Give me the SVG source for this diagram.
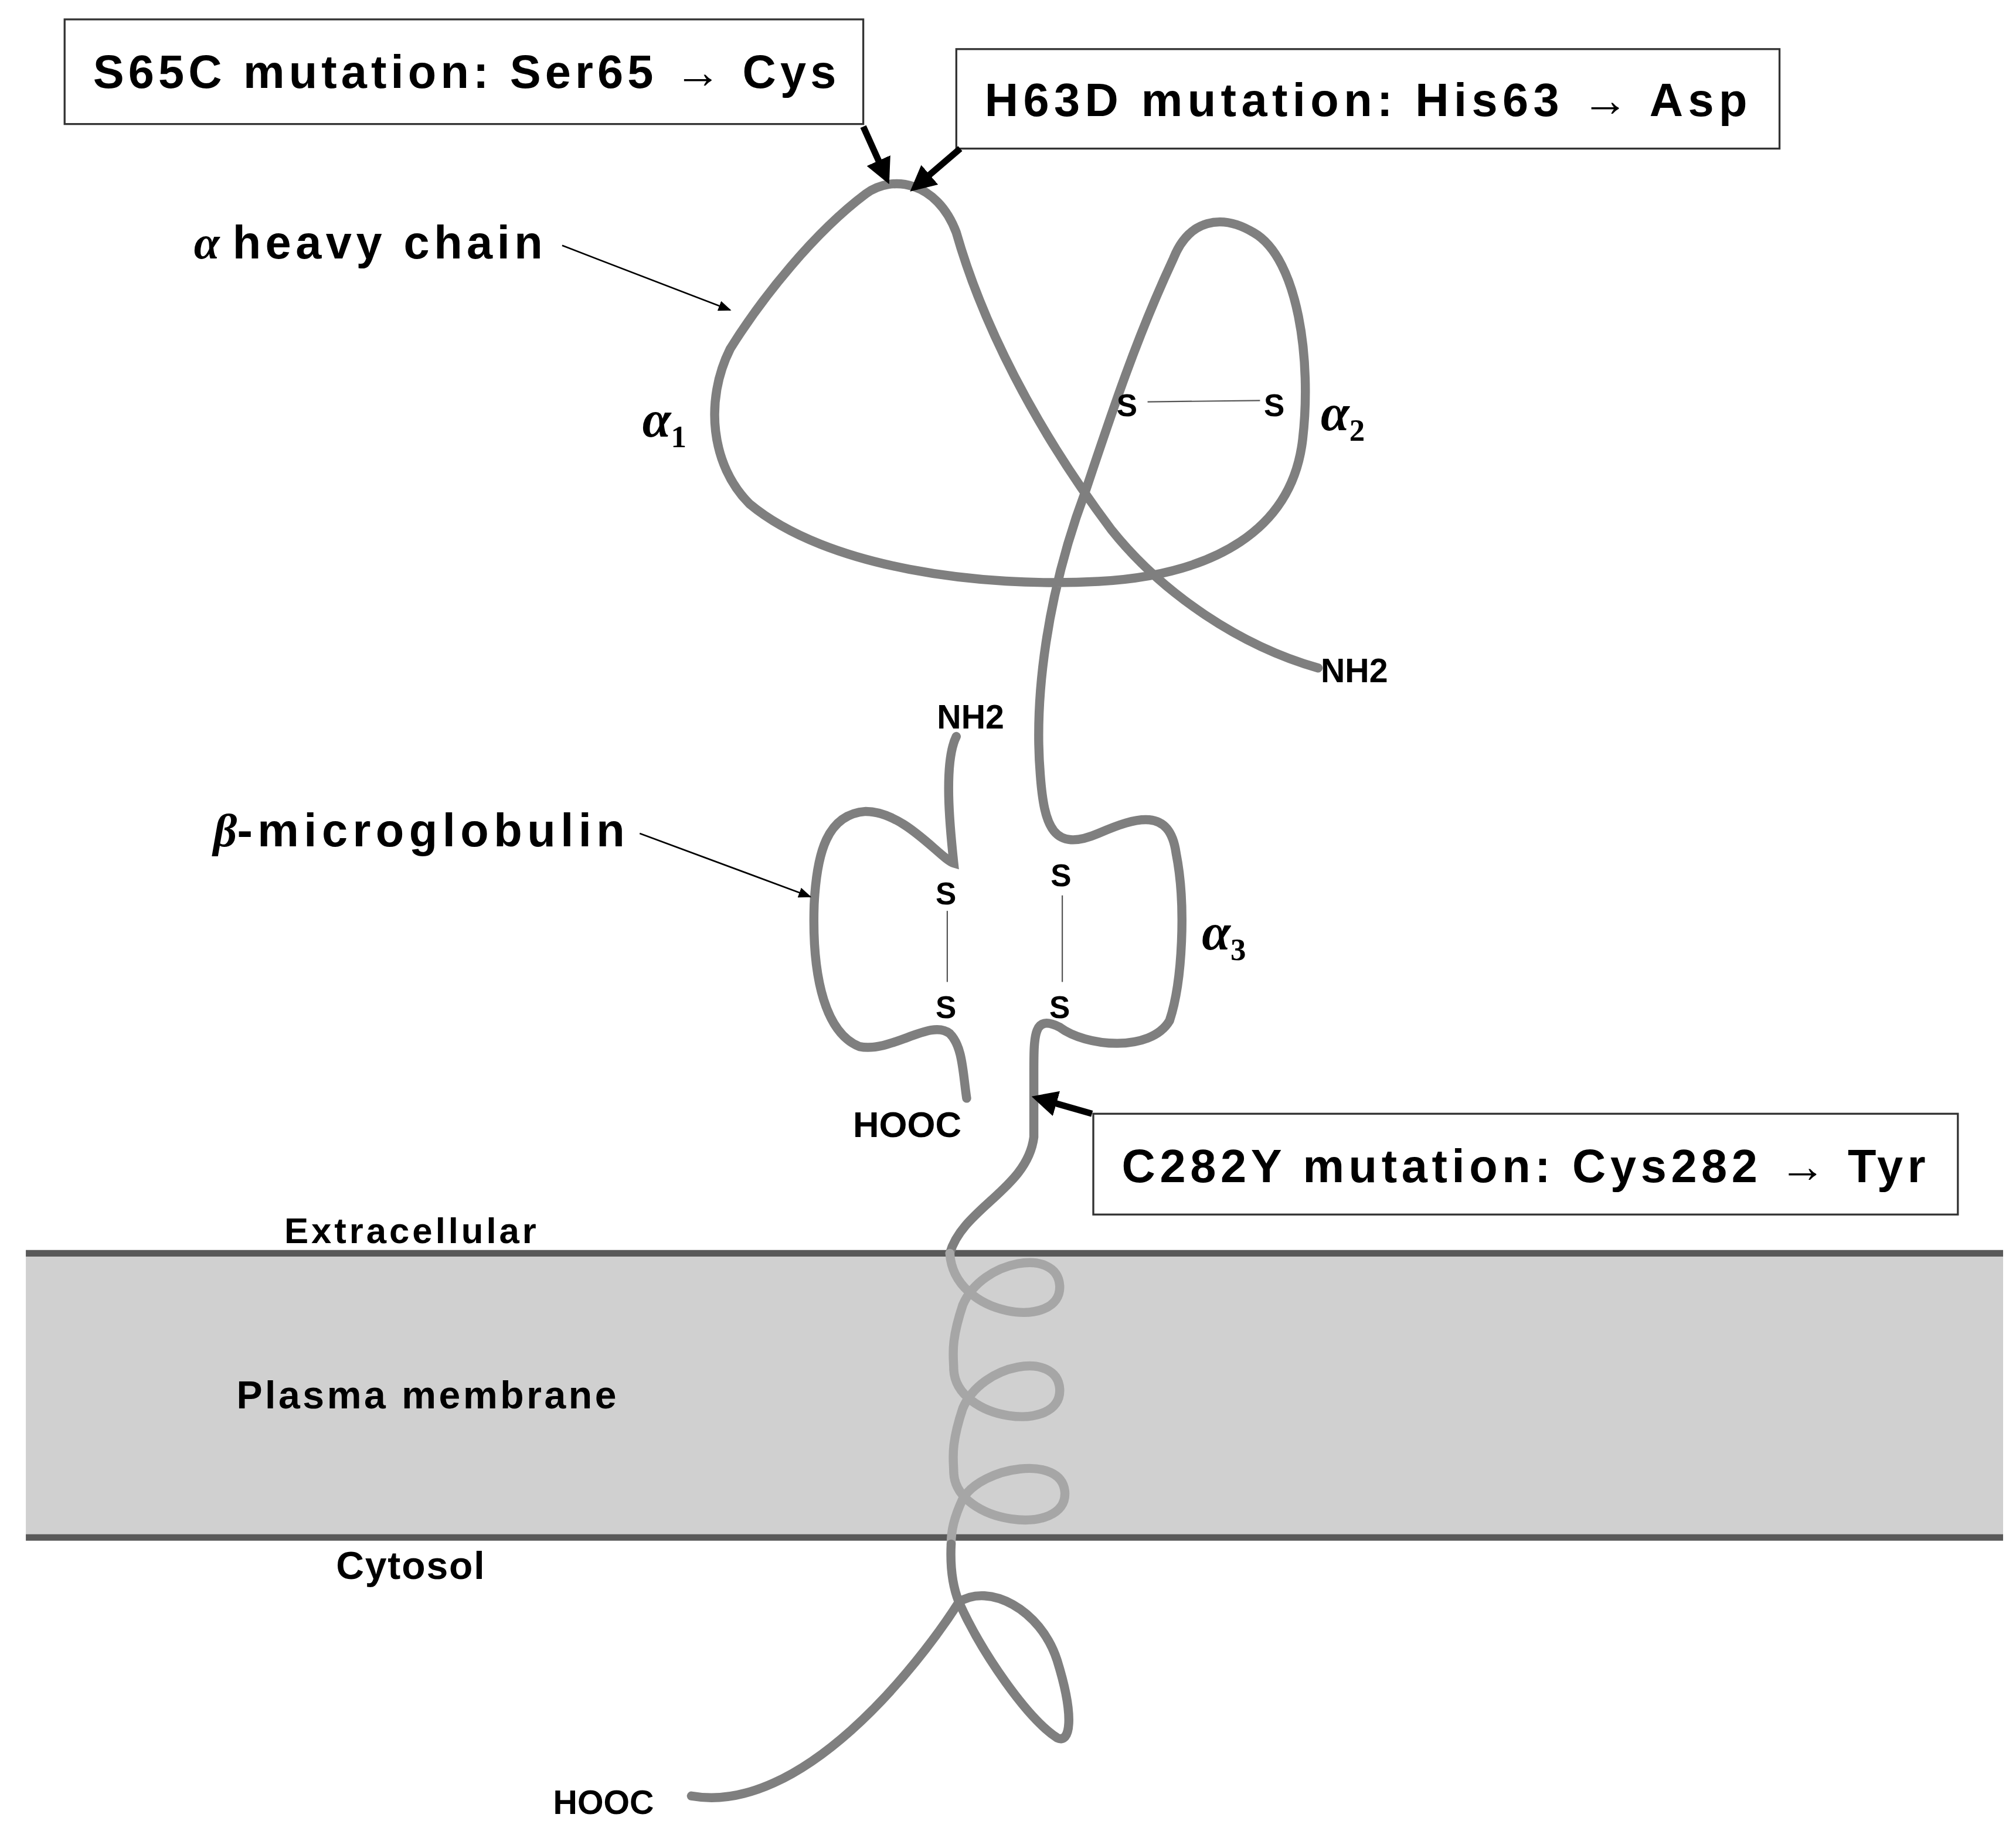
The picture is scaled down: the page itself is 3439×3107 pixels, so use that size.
<svg xmlns="http://www.w3.org/2000/svg" width="3439" height="3107" viewBox="0 0 3439 3107">
<style>
.t{font-family:"Liberation Sans",Arial,sans-serif;font-weight:bold;fill:#000}
.g{font-family:"Liberation Serif","DejaVu Serif",serif;font-weight:bold;font-style:italic;fill:#000}
.chain{fill:none;stroke:#7f7f7f;stroke-width:7;stroke-linecap:round}
.helix{fill:none;stroke:#a6a6a6;stroke-width:7;stroke-linecap:round}
.box{fill:#fff;stroke:#333;stroke-width:1.5}
.thin{stroke:#000;stroke-width:1.2;fill:none}
.thick{stroke:#000;stroke-width:5;fill:none}
.ss{stroke:#555;stroke-width:1}
</style>
<defs>
<marker id="a" markerWidth="10" markerHeight="8" refX="9" refY="4" orient="auto" markerUnits="userSpaceOnUse"><path d="M0,0 L10,4 L0,8 z" fill="#000"/></marker>
<marker id="b" markerWidth="4" markerHeight="4" refX="3" refY="2" orient="auto"><path d="M0,0 L4,2 L0,4 z" fill="#000"/></marker>
</defs>
<rect width="3439" height="3107" fill="#fff"/>
<g transform="scale(2.2045)">
<g id="membrane">
<rect x="20" y="970" width="1530" height="220" fill="#d0d0d0"/>
<line x1="20" y1="970" x2="1550" y2="970" stroke="#595959" stroke-width="5"/>
<line x1="20" y1="1190" x2="1550" y2="1190" stroke="#595959" stroke-width="5"/>
<text class="t" x="220" y="962" font-size="28" textLength="195">Extracellular</text>
<text class="t" x="183" y="1090" font-size="30" textLength="294">Plasma membrane</text>
<text class="t" x="260" y="1222" font-size="30" textLength="115">Cytosol</text>
</g>
<g id="heavy-chain">
<path class="chain" d="M1020,517 C960,500 900,460 860,410 C800,330 760,250 740,180 C725,140 690,135 670,150 C630,180 590,230 565,270 C545,310 550,360 580,390 C640,440 760,455 850,450 C940,445 1000,410 1008,340 C1015,280 1005,200 970,180 C945,165 920,170 908,200 C880,260 860,320 840,380 C810,460 800,540 805,600 C808,640 815,660 850,645 C880,632 905,625 910,660 C918,700 915,760 905,790 C890,815 840,810 820,795 C800,785 800,800 800,830 L800,880 C795,920 745,935 735,970"/>
<path class="helix" d="M735,970 C738,1020 822,1030 820,995 C818,965 760,975 745,1010 C735,1040 738,1050 738,1060 C740,1100 822,1110 820,1075 C818,1045 760,1055 745,1090 C735,1120 738,1130 738,1140 C740,1180 826,1190 824,1155 C822,1125 760,1135 745,1160 C738,1175 736,1185 736,1195"/>
<path class="chain" d="M736,1195 C735,1215 738,1230 742,1240 C765,1225 805,1245 818,1285 C832,1330 828,1350 818,1345 C795,1330 760,1280 742,1240 C710,1290 620,1405 535,1390"/>
<text class="t" x="1022" y="528" font-size="26">NH2</text>
<text class="t" x="428" y="1404" font-size="26">HOOC</text>
<line class="ss" x1="888" y1="311" x2="975" y2="310"/>
<text class="t" x="864" y="322" font-size="24">S</text>
<text class="t" x="978" y="322" font-size="24">S</text>
<line class="ss" x1="822" y1="693" x2="822" y2="760"/>
<text class="t" x="813" y="686" font-size="24">S</text>
<text class="t" x="812" y="788" font-size="24">S</text>
<text class="g" x="497" y="338" font-size="40">α<tspan font-size="24" dy="8" font-style="normal">1</tspan></text>
<text class="g" x="1022" y="333" font-size="40">α<tspan font-size="24" dy="8" font-style="normal">2</tspan></text>
<text class="g" x="930" y="735" font-size="40">α<tspan font-size="24" dy="8" font-style="normal">3</tspan></text>
</g>
<g id="b2m">
<path class="chain" d="M740,570 C730,590 735,640 738,668 C728,665 700,628 670,628 C640,630 632,660 630,700 C628,760 640,800 665,810 C690,815 720,788 735,800 C745,810 745,830 748,850"/>
<line class="ss" x1="733" y1="705" x2="733" y2="760"/>
<text class="t" x="724" y="700" font-size="24">S</text>
<text class="t" x="724" y="788" font-size="24">S</text>
<text class="t" x="725" y="564" font-size="26">NH2</text>
<text class="t" x="660" y="880" font-size="28">HOOC</text>
</g>
<g id="labels">
<text x="150" y="200" font-size="36"><tspan class="g">α</tspan><tspan class="t" dx="10" textLength="240">heavy chain</tspan></text>
<text x="165" y="655" font-size="36"><tspan class="g">β</tspan><tspan class="t" textLength="300">-microglobulin</tspan></text>
</g>
<g id="box-s65c"><rect class="box" x="50" y="15" width="618" height="81"/><text class="t" x="72" y="68" font-size="36" textLength="575">S65C mutation: Ser65 → Cys</text></g>
<g id="box-h63d"><rect class="box" x="740" y="38" width="637" height="77"/><text class="t" x="762" y="90" font-size="36" textLength="590">H63D mutation: His63 → Asp</text></g>
<g id="box-c282y"><rect class="box" x="846" y="862" width="669" height="78"/><text class="t" x="868" y="915" font-size="36" textLength="622">C282Y mutation: Cys282 → Tyr</text></g>
<g id="connectors">
<line class="thin" x1="435" y1="190" x2="565" y2="240" marker-end="url(#a)"/>
<line class="thin" x1="495" y1="645" x2="627" y2="694" marker-end="url(#a)"/>
<line class="thick" x1="668" y1="98" x2="686" y2="138" marker-end="url(#b)"/>
<line class="thick" x1="743" y1="115" x2="708" y2="145" marker-end="url(#b)"/>
<line class="thick" x1="845" y1="862" x2="803" y2="850" marker-end="url(#b)"/>
</g>
</g>
</svg>
